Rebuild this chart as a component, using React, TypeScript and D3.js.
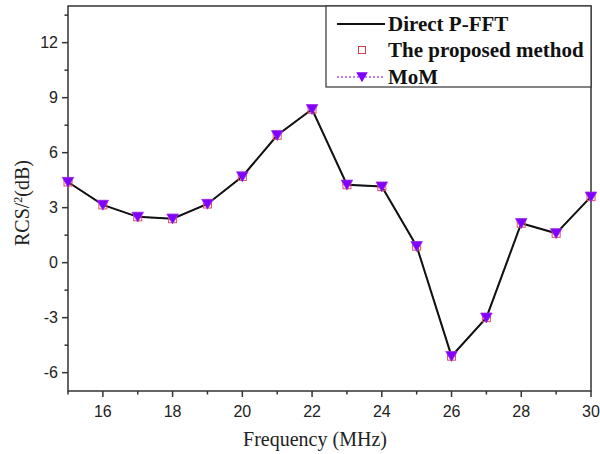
import React from "react";
import * as d3 from "d3";

const freqs = [15, 16, 17, 18, 19, 20, 21, 22, 23, 24, 25, 26, 27, 28, 29, 30];
const directPFFT = [4.4, 3.15, 2.5, 2.4, 3.2, 4.7, 6.95, 8.37, 4.25, 4.15, 0.9, -5.1, -3.0, 2.15, 1.6, 3.6];
const proposed = [4.4, 3.15, 2.5, 2.4, 3.2, 4.7, 6.95, 8.37, 4.25, 4.15, 0.9, -5.1, -3.0, 2.15, 1.6, 3.6];
const mom = [4.4, 3.15, 2.5, 2.4, 3.2, 4.7, 6.95, 8.37, 4.25, 4.15, 0.9, -5.1, -3.0, 2.15, 1.6, 3.6];
const xTicks = [16, 18, 20, 22, 24, 26, 28, 30];
const xMinor = [15, 17, 19, 21, 23, 25, 27, 29];
const yTicks = [-6, -3, 0, 3, 6, 9, 12];
const yMinor = [-4.5, -1.5, 1.5, 4.5, 7.5, 10.5, 13.5];
const legendLabels = ["Direct P-FFT", "The proposed method", "MoM"];

export default function App() {
  const W = 600, H = 454;
  const L = 68, R = 591, T = 6, B = 391;
  const x = d3.scaleLinear().domain([15, 30]).range([L, R]);
  const y = d3.scaleLinear().domain([-7, 14]).range([B, T]);
  const line = (vals: number[]) =>
    d3.line<number>().x((_, i) => x(freqs[i])).y((v) => y(v))(vals) || "";
  const tri = (cx: number, cy: number, s = 5.8) =>
    `M${cx - s},${cy - s * 0.8}L${cx + s},${cy - s * 0.8}L${cx},${cy + s * 0.9}Z`;
  const purple = "#8000ff";
  const axisColor = "#333";
  const tickFont = "'Liberation Sans', Arial, sans-serif";
  const serif = "'Liberation Serif', 'Times New Roman', serif";
  const legX = 326, legR = R, legT = T, legB = 87;
  const rows = [24, 50, 77];
  return (
    <svg width={W} height={H} style={{ position: "absolute", left: 0, top: 0, background: "#fff" }}>
      <rect x={0} y={0} width={W} height={H} fill="#fff" />
      <rect x={L} y={T} width={R - L} height={B - T} fill="none" stroke={axisColor} strokeWidth={1.5} />
      {yTicks.map((t) => (
        <g key={"y" + t}>
          <line x1={L - 6} x2={L} y1={y(t)} y2={y(t)} stroke={axisColor} strokeWidth={1.5} />
          <text x={L - 10} y={y(t)} dy="0.35em" textAnchor="end" fontFamily={tickFont} fontSize={16} fill="#222">
            {t}
          </text>
        </g>
      ))}
      {yMinor.map((t) => (
        <line key={"ym" + t} x1={L - 3.5} x2={L} y1={y(t)} y2={y(t)} stroke={axisColor} strokeWidth={1.5} />
      ))}
      {xTicks.map((t) => (
        <g key={"x" + t}>
          <line x1={x(t)} x2={x(t)} y1={B} y2={B + 6} stroke={axisColor} strokeWidth={1.5} />
          <text x={x(t)} y={B + 26} textAnchor="middle" fontFamily={tickFont} fontSize={16} fill="#222">
            {t}
          </text>
        </g>
      ))}
      {xMinor.map((t) => (
        <line key={"xm" + t} x1={x(t)} x2={x(t)} y1={B} y2={B + 3.5} stroke={axisColor} strokeWidth={1.5} />
      ))}
      <text x={315} y={446} textAnchor="middle" fontFamily={serif} fontSize={20} fill="#222">
        Frequency (MHz)
      </text>
      <text transform={`translate(29,${203}) rotate(-90)`} textAnchor="middle" fontFamily={serif} fontSize={20} fill="#222">
        RCS/<tspan fontSize={12} dy={-7}>2</tspan>
        <tspan dy={7}>(dB)</tspan>
      </text>
      <path d={line(mom)} fill="none" stroke={purple} strokeWidth={1.2} strokeDasharray="2,2" />
      <path d={line(directPFFT)} fill="none" stroke="#111" strokeWidth={2} />
      {proposed.map((v, i) => (
        <rect key={"s" + i} x={x(freqs[i]) - 4} y={y(v) - 4} width={8} height={8} fill="none" stroke="#e05060" strokeWidth={1} />
      ))}
      {mom.map((v, i) => (
        <path key={"t" + i} d={tri(x(freqs[i]), y(v))} fill={purple} stroke="#a030e0" strokeWidth={0.8} />
      ))}
      <rect x={legX} y={legT} width={legR - legX} height={legB - legT} fill="#fff" stroke={axisColor} strokeWidth={1.2} />
      <line x1={337} x2={385} y1={rows[0]} y2={rows[0]} stroke="#111" strokeWidth={2} />
      <rect x={358.5} y={rows[1] - 3.5} width={7} height={7} fill="none" stroke="#d04050" strokeWidth={1} />
      <line x1={337} x2={385} y1={rows[2]} y2={rows[2]} stroke={purple} strokeWidth={1.2} strokeDasharray="2,2" />
      <path d={tri(362, rows[2])} fill={purple} />
      {legendLabels.map((l, i) => (
        <text key={l} x={388} y={rows[i]} dy="0.33em" fontFamily={serif} fontWeight="bold" fontSize={21} fill="#111">
          {l}
        </text>
      ))}
    </svg>
  );
}
